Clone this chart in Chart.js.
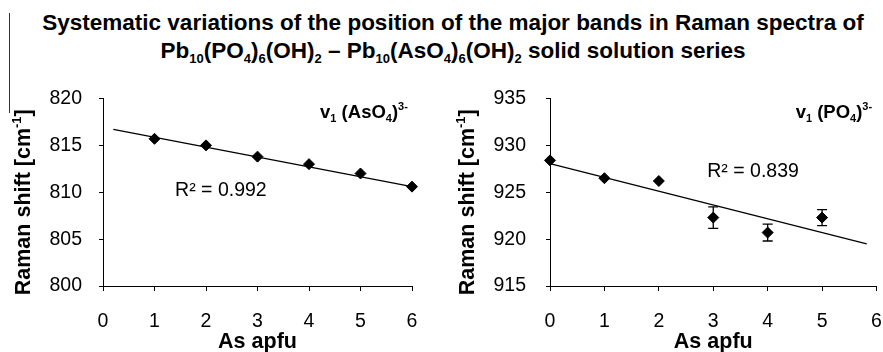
<!DOCTYPE html>
<html>
<head>
<meta charset="utf-8">
<script src="https://cdn.jsdelivr.net/npm/chart.js@4/dist/chart.umd.min.js"></script>
<style>
  body { margin: 0; width: 883px; height: 352px; background: #fff; position: relative; overflow: hidden; font-family: "Liberation Sans", Arial, sans-serif; }
  #title { position: absolute; left: 3px; top: 9px; width: 900px; text-align: center; font-weight: bold; font-size: 22.5px; line-height: 28px; color: #000; }
  #title sub { font-size: 13px; vertical-align: -5px; line-height: 0; }
  #edge { position: absolute; left: 9px; top: 13px; width: 1px; height: 100px; background: #333; }
  canvas { position: absolute; top: 70px; }
  #chartA { left: 0; }
  #chartP { left: 441px; }
</style>
</head>
<body>
<div id="edge"></div>
<div id="title">Systematic variations of the position of the major bands in Raman spectra of<br>Pb<sub>10</sub>(PO<sub>4</sub>)<sub>6</sub>(OH)<sub>2</sub> – Pb<sub>10</sub>(AsO<sub>4</sub>)<sub>6</sub>(OH)<sub>2</sub> solid solution series</div>
<canvas id="chartA" width="441" height="282"></canvas>
<canvas id="chartP" width="442" height="282"></canvas>
<script>
const FONT = '"Liberation Sans", Arial, sans-serif';

// v1 (AsO4)3- band
const asApfuA = [1, 2, 3, 4, 5, 6];
const shiftA = [815.7, 815.0, 813.8, 813.0, 812.0, 810.6];
const trendXA = [0.2, 6];
const trendYA = [816.7, 810.6];

// v1 (PO4)3- band
const asApfuP = [0, 1, 2, 3, 4, 5];
const shiftP = [928.4, 926.5, 926.2, 922.3, 920.7, 922.3];
const errP = [0, 0, 0, 1.15, 0.9, 0.85];
const trendXP = [0, 5.82];
const trendYP = [928.05, 919.5];

// ticks
const xTicks = [0, 1, 2, 3, 4, 5, 6];
const yTicksA = [800, 805, 810, 815, 820];
const yTicksP = [915, 920, 925, 930, 935];

const r2A = 'R² = 0.992';
const r2P = 'R² = 0.839';

// text with sub/superscripts, drawn piece by piece
function drawRich(ctx, segs, x, y, align, size, weight) {
    const small = Math.round(size * 0.62);
    let w = 0;
    segs.forEach(s => {
        ctx.font = `${weight} ${s.s ? small : size}px ${FONT}`;
        s.w = ctx.measureText(s.t).width;
        w += s.w;
    });
    let cx = align === 'right' ? x - w : align === 'center' ? x - w / 2 : x;
    segs.forEach(s => {
        ctx.font = `${weight} ${s.s ? small : size}px ${FONT}`;
        const dy = s.s === 'sub' ? size * 0.22 : s.s === 'sup' ? -size * 0.42 : 0;
        ctx.fillText(s.t, cx, y + dy);
        cx += s.w;
    });
}

const notesPlugin = {
    id: 'notes',
    afterDraw(chart, args, opts) {
        const ctx = chart.ctx;
        const xs = chart.scales.x, ys = chart.scales.y;
        ctx.save();
        ctx.fillStyle = '#000';
        ctx.textBaseline = 'alphabetic';
        (opts.items || []).forEach(n => {
            drawRich(ctx, n.segs, xs.getPixelForValue(n.x), ys.getPixelForValue(n.y), n.align, n.size, n.weight);
        });
        // y axis title, rotated
        if (opts.yTitle) {
            const ca = chart.chartArea;
            ctx.translate(opts.yTitleX, (ca.top + ca.bottom) / 2 + 10);
            ctx.rotate(-Math.PI / 2);
            drawRich(ctx, opts.yTitle, 0, 21.5 * 0.36, 'center', 21.5, 'bold');
        }
        ctx.restore();
    }
};

const errorBars = {
    id: 'errorBars',
    beforeDatasetsDraw(chart, args, opts) {
        const errs = opts.errors;
        if (!errs) return;
        const ctx = chart.ctx;
        const ys = chart.scales.y;
        const meta = chart.getDatasetMeta(0);
        const vals = chart.data.datasets[0].data;
        ctx.save();
        ctx.strokeStyle = '#000';
        ctx.lineWidth = 1.3;
        meta.data.forEach((pt, i) => {
            const e = errs[i];
            if (!e) return;
            const top = ys.getPixelForValue(vals[i].y + e);
            const bot = ys.getPixelForValue(vals[i].y - e);
            ctx.beginPath();
            ctx.moveTo(pt.x, top); ctx.lineTo(pt.x, bot);
            ctx.moveTo(pt.x - 5, top); ctx.lineTo(pt.x + 5, top);
            ctx.moveTo(pt.x - 5, bot); ctx.lineTo(pt.x + 5, bot);
            ctx.stroke();
        });
        ctx.restore();
    }
};

function makeChart(id, xs, ys, tx, ty, yTicks, cfg) {
    new Chart(document.getElementById(id), {
        type: 'scatter',
        data: {
            datasets: [
                {
                    data: xs.map((x, i) => ({ x: x, y: ys[i] })),
                    pointStyle: 'rectRot', pointRadius: 5.5,
                    backgroundColor: '#000', borderColor: '#000', borderWidth: 1,
                    clip: false
                },
                {
                    data: tx.map((x, i) => ({ x: x, y: ty[i] })),
                    showLine: true, pointRadius: 0,
                    borderColor: '#000', borderWidth: 1.3,
                    clip: false
                }
            ]
        },
        options: {
            responsive: false,
            animation: false,
            devicePixelRatio: 1,
            layout: { padding: { top: 28.5, right: cfg.padRight, left: 0, bottom: 0 } },
            plugins: {
                legend: { display: false },
                tooltip: { enabled: false },
                notes: { items: cfg.notes, yTitle: cfg.yTitle, yTitleX: cfg.yTitleX },
                errorBars: { errors: cfg.errors }
            },
            scales: {
                x: {
                    type: 'linear',
                    min: xTicks[0], max: xTicks[xTicks.length - 1],
                    afterBuildTicks: s => { s.ticks = xTicks.map(v => ({ value: v })); },
                    afterFit: s => { s.height = 66; s.paddingLeft = 0; s.paddingRight = 0; },
                    ticks: { color: '#000', font: { family: FONT, size: 19.5 }, padding: 19, maxRotation: 0 },
                    grid: { drawOnChartArea: false, drawTicks: true, tickLength: 5, color: '#000', lineWidth: 1 },
                    border: { display: true, color: '#000', width: 1 },
                    title: { display: true, text: 'As apfu', color: '#000', font: { family: FONT, size: 21.5, weight: 'bold' }, padding: { top: 0, bottom: -3 } }
                },
                y: {
                    type: 'linear',
                    min: yTicks[0], max: yTicks[yTicks.length - 1],
                    afterBuildTicks: s => { s.ticks = yTicks.map(v => ({ value: v })); },
                    afterFit: s => { s.width = cfg.yWidth; s.paddingTop = 0; s.paddingBottom = 0; },
                    ticks: { color: '#000', font: { family: FONT, size: 19.5 }, padding: cfg.yPad },
                    grid: { drawOnChartArea: false, drawTicks: true, tickLength: 4, color: '#000', lineWidth: 1 },
                    border: { display: true, color: '#000', width: 1 }
                }
            }
        },
        plugins: [errorBars, notesPlugin]
    });
}

const yTitleSegs = [{ t: 'Raman shift [cm' }, { t: '-1', s: 'sup' }, { t: ']' }];

makeChart('chartA', asApfuA, shiftA, trendXA, trendYA, yTicksA, {
    padRight: 29, yWidth: 103, yPad: 17, yTitleX: 22,
    yTitle: yTitleSegs,
    notes: [
        { x: 5.92, y: 817.96, align: 'right', size: 18.5, weight: 'bold',
          segs: [{ t: 'v' }, { t: '1', s: 'sub' }, { t: ' (AsO' }, { t: '4', s: 'sub' }, { t: ')' }, { t: '3-', s: 'sup' }] },
        { x: 1.4, y: 809.55, align: 'left', size: 19.5, weight: 'normal', segs: [{ t: r2A }] }
    ]
});

makeChart('chartP', asApfuP, shiftP, trendXP, trendYP, yTicksP, {
    padRight: 6, yWidth: 109, yPad: 20, yTitleX: 25,
    yTitle: yTitleSegs,
    errors: errP,
    notes: [
        { x: 5.92, y: 932.96, align: 'right', size: 18.5, weight: 'bold',
          segs: [{ t: 'v' }, { t: '1', s: 'sub' }, { t: ' (PO' }, { t: '4', s: 'sub' }, { t: ')' }, { t: '3-', s: 'sup' }] },
        { x: 2.89, y: 926.63, align: 'left', size: 19.5, weight: 'normal', segs: [{ t: r2P }] }
    ]
});
</script>
</body>
</html>
